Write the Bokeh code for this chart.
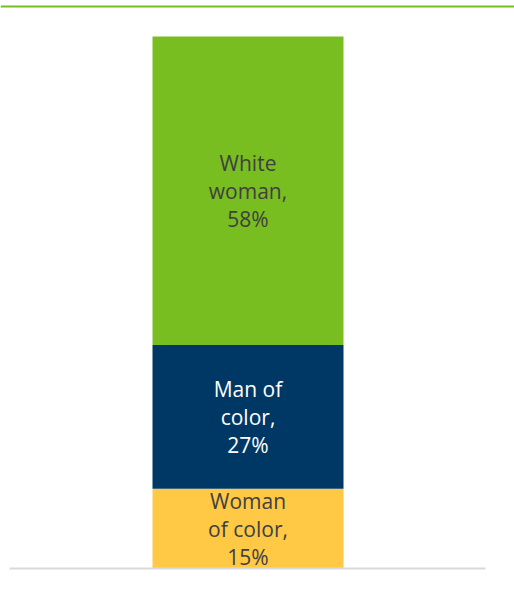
from bokeh.plotting import figure
from bokeh.models import Range1d, Span, ColumnDataSource, FixedTicker
from bokeh.core.properties import value
from bokeh.embed import file_html
from bokeh.resources import INLINE

# Data (bottom to top)
groups = ["Woman of color", "Man of color", "White woman"]
shares = [15, 27, 58]
labels = ["Woman\nof color,\n15%", "Man of\ncolor,\n27%", "White\nwoman,\n58%"]
colors = ["#FFC845", "#003865", "#78BE20"]
text_colors = ["#404040", "#FFFFFF", "#404040"]

bottoms, tops, mids = [], [], []
acc = 0
for s in shares:
    bottoms.append(acc)
    tops.append(acc + s)
    mids.append(acc + s / 2)
    acc += s

src = ColumnDataSource(dict(x=[0] * len(groups), bottom=bottoms, top=tops, mid=mids,
                            label=labels, color=colors, tcolor=text_colors, group=groups))

W, H = 514, 590
bar_px = 191.0
center_px = 247.5
base_px = 568.0
scale = 5.32
p = figure(width=W, height=H, output_backend="svg", toolbar_location=None,
           x_range=Range1d(-center_px / bar_px, (W - center_px) / bar_px),
           y_range=Range1d(0, base_px / scale),
           min_border_left=0, min_border_right=0, min_border_top=0,
           min_border_bottom=int(H - base_px))
p.outline_line_color = None
p.grid.visible = False
p.yaxis.visible = False
p.background_fill_color = "white"
p.border_fill_color = "white"

p.vbar(x="x", bottom="bottom", top="top", width=1.0, fill_color="color",
       line_color=None, source=src)
p.text(x="x", y="mid", text="label", text_color="tcolor", source=src,
       text_align="center", text_baseline="middle", text_font=value("Open Sans"),
       text_font_size="21px", text_line_height=1.0)

# baseline axis
ax = p.xaxis[0]
ax.ticker = FixedTicker(ticks=[])
ax.bounds = ((9 - center_px) / bar_px, (485 - center_px) / bar_px)
ax.axis_line_color = "#D9D9D9"
ax.axis_line_width = 2
ax.major_tick_line_color = None
ax.minor_tick_line_color = None

# green rule on top
p.add_layout(Span(location=(base_px - 6) / scale, dimension="width",
                  line_color="#78BE20", line_width=2))

open("out.html", "w").write(file_html(p, INLINE))
